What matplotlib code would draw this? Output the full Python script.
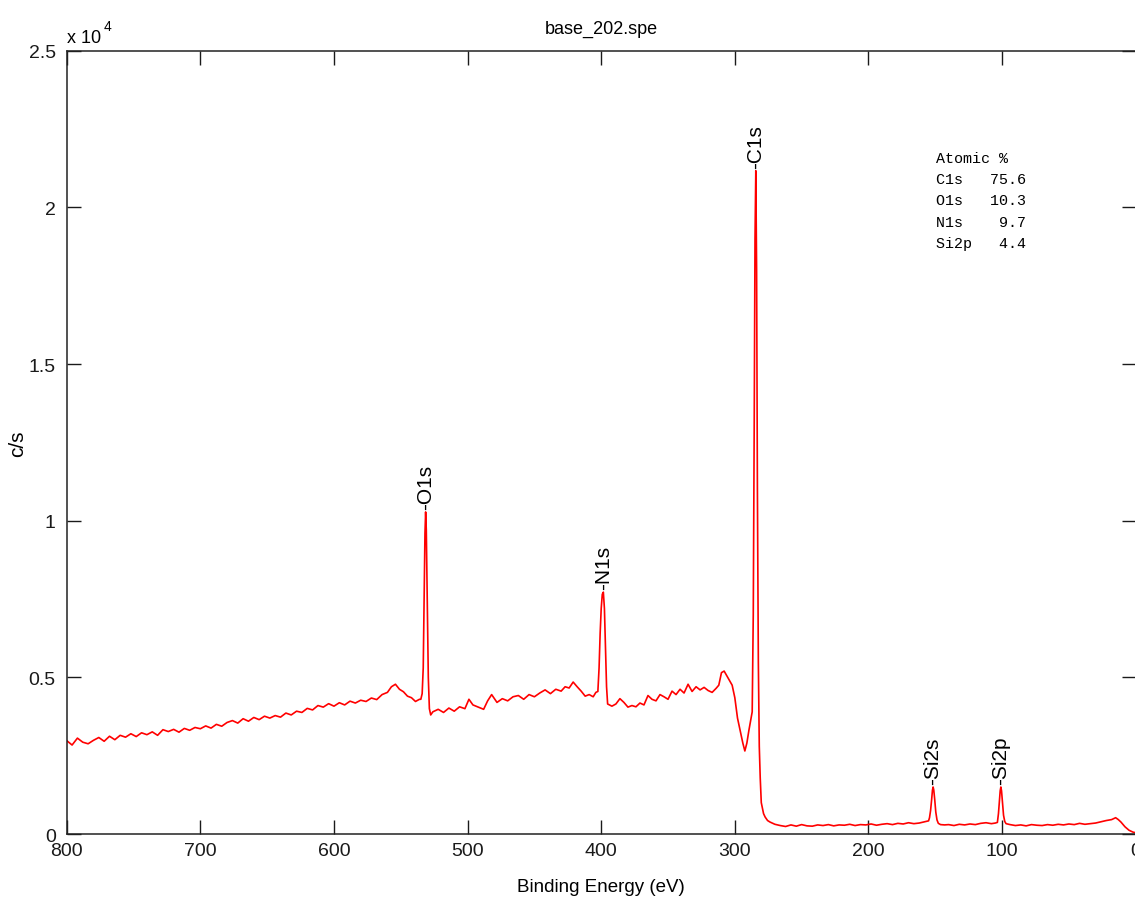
import numpy as np
import matplotlib.pyplot as plt

# survey spectrum, segment by segment (binding energy eV, counts/s)
be_high = [800, 796, 792, 788, 784, 780, 776, 772, 768, 764, 760, 756, 752, 748, 744,
           740, 736, 732, 728, 724, 720, 716, 712, 708, 704, 700, 696, 692, 688, 684,
           680, 676, 672, 668, 664, 660, 656, 652, 648, 644, 640, 636, 632, 628, 624,
           620, 616, 612, 608, 604, 600, 596, 592, 588, 584, 580, 576, 572, 568, 564,
           560, 557, 554, 551, 548, 545, 542, 539, 536]
cps_high = [2980, 2840, 3060, 2930, 2880, 2990, 3080, 2960, 3120, 3010, 3150, 3090, 3200, 3110, 3230,
            3170, 3260, 3150, 3330, 3270, 3340, 3250, 3370, 3310, 3400, 3360, 3450, 3380, 3500, 3440,
            3560, 3620, 3540, 3680, 3600, 3720, 3650, 3760, 3700, 3780, 3730, 3860, 3800, 3920, 3880,
            4010, 3960, 4100, 4050, 4160, 4080, 4190, 4120, 4240, 4180, 4270, 4230, 4340, 4290, 4450,
            4520, 4700, 4780, 4620, 4540, 4400, 4350, 4230, 4300]

be_o1s = [535, 534, 533.2, 532.5, 531.9, 531.4, 530.9, 530.2, 529.4, 528.6, 527.6]
cps_o1s = [4300, 4480, 5300, 7600, 9600, 10280, 9700, 7400, 5000, 4000, 3800]

be_mid = [526, 522, 518, 514, 510, 506, 502, 499, 496, 492, 488, 485, 482, 478, 474,
          470, 466, 462, 458, 454, 450, 446, 442, 438, 434, 430, 427, 424, 421, 418,
          415, 412, 409, 406, 404]
cps_mid = [3900, 3980, 3880, 4020, 3920, 4060, 4000, 4300, 4120, 4050, 3980, 4250, 4450, 4200, 4320,
           4250, 4380, 4420, 4300, 4450, 4380, 4500, 4600, 4480, 4620, 4560, 4700, 4660, 4850, 4700,
           4560, 4400, 4450, 4380, 4520]

be_n1s = [402.5, 401.6, 400.8, 400.0, 399.2, 398.4, 397.6, 396.8, 396.0, 395.2]
cps_n1s = [4550, 5300, 6400, 7200, 7650, 7720, 7200, 6000, 4700, 4150]

be_shake = [392, 389, 386, 383, 380, 377, 374, 371, 368, 365, 362, 359, 356, 353, 350,
            347, 344, 341, 338, 335, 332, 329, 326, 323, 320, 317, 314, 312, 310, 308,
            306, 304, 302, 300, 298, 296, 294, 292.5, 291, 289.5, 288, 287]
cps_shake = [4080, 4150, 4320, 4200, 4050, 4100, 4060, 4180, 4120, 4420, 4300, 4250, 4450, 4380, 4300,
             4560, 4450, 4620, 4500, 4780, 4550, 4700, 4600, 4680, 4580, 4520, 4650, 4750, 5150, 5200,
             5050, 4900, 4750, 4350, 3700, 3300, 2900, 2650, 2900, 3300, 3650, 3900]

be_c1s = [286.2, 285.5, 284.9, 284.3, 283.7, 283.1, 282.4, 281.7, 281.0, 280.2, 279.5,
          278.5, 277.3, 275.5, 273.6, 270]
cps_c1s = [7000, 13000, 19000, 21170, 18000, 11000, 5500, 2800, 1800, 1000, 850,
           650, 540, 430, 380, 310]

be_low = [266, 262, 258, 254, 250, 246, 242, 238, 234, 230, 226, 222, 218, 214, 210,
          206, 202, 198, 194, 190, 186, 182, 178, 174, 170, 166, 162, 159, 157]
cps_low = [270, 240, 290, 250, 300, 260, 250, 290, 270, 300, 260, 290, 280, 310, 270,
           300, 290, 320, 280, 310, 330, 300, 340, 320, 360, 330, 350, 380, 400]

be_si2s = [155, 154.3, 153.5, 152.7, 152.1, 151.6, 151.1, 150.4, 149.6, 148.7, 147.7]
cps_si2s = [420, 520, 750, 1100, 1400, 1500, 1400, 1100, 700, 450, 340]

be_gap = [146, 143, 140, 136, 132, 128, 124, 120, 116, 112, 108, 105]
cps_gap = [300, 290, 300, 270, 310, 290, 320, 300, 340, 360, 330, 350]

be_si2p = [103.5, 102.7, 102.0, 101.4, 100.9, 100.4, 99.7, 98.9, 98.0, 97.0]
cps_si2p = [370, 650, 1050, 1380, 1500, 1380, 1000, 600, 400, 330]

be_tail = [94, 90, 86, 82, 78, 74, 70, 66, 62, 58, 54, 50, 46, 42, 38,
           34, 30, 26, 22, 18, 15, 13, 11, 8, 5, 2, 0]
cps_tail = [300, 270, 290, 260, 300, 280, 270, 300, 280, 310, 290, 320, 300, 340, 310,
            330, 350, 390, 430, 460, 520, 460, 380, 230, 120, 60, 40]

peak_names = ['-O1s', '-N1s', '-C1s', '-Si2s', '-Si2p']
peak_be = [531.4, 398.4, 284.3, 151.6, 100.9]

elements = ['C1s', 'O1s', 'N1s', 'Si2p']
atomic_pct = [75.6, 10.3, 9.7, 4.4]

xticks = [800, 700, 600, 500, 400, 300, 200, 100, 0]
yticks = [0, 0.5, 1, 1.5, 2, 2.5]
ytick_labels = ['0', '0.5', '1', '1.5', '2', '2.5']

be = np.concatenate([be_high, be_o1s, be_mid, be_n1s, be_shake, be_c1s,
                     be_low, be_si2s, be_gap, be_si2p, be_tail])
cps = np.concatenate([cps_high, cps_o1s, cps_mid, cps_n1s, cps_shake, cps_c1s,
                      cps_low, cps_si2s, cps_gap, cps_si2p, cps_tail]) / 1e4

sans = ['Liberation Sans', 'DejaVu Sans']

fig = plt.figure(figsize=(11.35, 9.03), dpi=100)
ax = fig.add_axes([0.0588, 0.0753, 0.9418, 0.8674])
ax.plot(be, cps, color='#ff0000', lw=1.2)

ax.set_xlim(800, 0)
ax.set_ylim(0, 2.5)
ax.set_xticks(xticks)
ax.set_xticklabels([str(t) for t in xticks], family=sans, fontsize=14)
ax.set_yticks(yticks)
ax.set_yticklabels(ytick_labels, family=sans, fontsize=14)
ax.tick_params(direction='in', length=10, width=1, top=True, right=True, colors='#1a1a1a')
ax.tick_params(axis='x', pad=6)
ax.tick_params(axis='y', pad=8)
for s in ax.spines.values():
    s.set_linewidth(1.1)
    s.set_color('#222222')

ax.set_title('base_202.spe', family=sans, fontsize=13, pad=13)
ax.set_xlabel('Binding Energy (eV)', family=sans, fontsize=13.5, va='center')
ax.xaxis.set_label_coords(0.5, -0.0664)
ax.set_ylabel('c/s', family=sans, fontsize=15, va='center')
ax.yaxis.set_label_coords(-0.0456, 0.5)

fig.text(67 / 1135, 1 - 43 / 903, 'x 10', family=sans, fontsize=13, va='baseline')
fig.text(104 / 1135, 1 - 31 / 903, '4', family=sans, fontsize=10, va='baseline')

# peak labels sit right on top of each peak
for name, pos in zip(peak_names, peak_be):
    near = np.abs(be - pos) < 2
    top = cps[near].max()
    ax.annotate(name, (pos, top), xytext=(0, 2), textcoords='offset points',
                rotation=90, ha='center', va='bottom', family=sans, fontsize=15)

rows = ['Atomic %'] + [f'{el:<4}{v:>6.1f}' for el, v in zip(elements, atomic_pct)]
for i, row in enumerate(rows):
    ax.text(0.8134, (835 - 159 - 21.3 * i) / 783, row, transform=ax.transAxes,
            family=['Liberation Mono', 'DejaVu Sans Mono'], fontsize=10.8,
            va='center', ha='left')

fig.savefig('out.png', dpi=100)
